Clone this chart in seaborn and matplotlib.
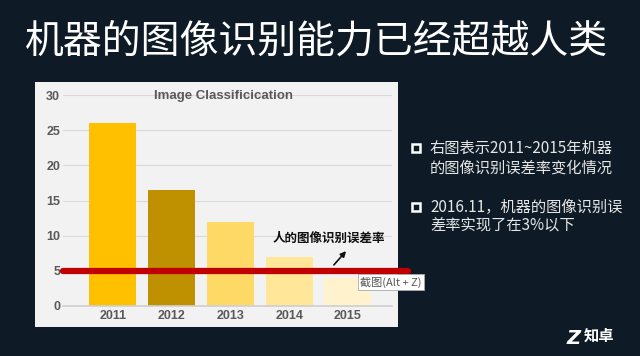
import matplotlib
matplotlib.use("Agg")
import matplotlib.pyplot as plt
import seaborn as sns
import pandas as pd
from matplotlib.patches import Rectangle

# ---- data ----
years = ["2011", "2012", "2013", "2014", "2015"]
error_rates = [26.0, 16.5, 12.0, 7.0, 4.0]
bar_colors = ["#ffc000", "#bf9000", "#ffd966", "#ffe699", "#fff2cc"]
human_error = 5.0
y_ticks = [0, 5, 10, 15, 20, 25, 30]
slide_title = "机器的图像识别能力已经超越人类"
chart_title = "Image Classificication"
human_label = "人的图像识别误差率"
tooltip = "截图(Alt + Z)"
bullet_lines = [
    ["右图表示2011~2015年机器", "的图像识别误差率变化情况"],
    ["2016.11，机器的图像识别误", "差率实现了在3%以下"],
]

sns.set_theme(style="white")
plt.rcParams['font.family'] = ['Noto Sans CJK SC', 'DejaVu Sans']

W, H = 640, 356
fig = plt.figure(figsize=(6.4, 3.56), dpi=100)
fig.patch.set_facecolor("#0e1b26")


def fx(px):
    return px / W


def fy(py):
    return 1 - py / H


# light chart panel
fig.patches.append(Rectangle((fx(35), fy(327)), fx(398) - fx(35), (327 - 82) / H,
                             transform=fig.transFigure, facecolor="#f2f2f2",
                             edgecolor="none", zorder=-5))

ax = fig.add_axes([fx(63), fy(306), (392 - 63) / W, (306 - 95) / H])
ax.set_zorder(1)
ax.set_facecolor("none")
df = pd.DataFrame({"year": years, "rate": error_rates})
sns.barplot(data=df, x="year", y="rate", hue="year", palette=bar_colors,
            legend=False, width=0.8, saturation=1, ax=ax, edgecolor="none")

ax.set_xlim(-0.85, 4.75)
ax.set_ylim(0, 30)
ax.set_yticks(y_ticks)
ax.yaxis.grid(True, color="#d9d9d9", lw=0.8)
ax.set_axisbelow(True)
for s in ["top", "right", "left"]:
    ax.spines[s].set_visible(False)
ax.spines["bottom"].set_color("#d0d0d0")
ax.set_xlabel("")
ax.set_ylabel("")
ax.tick_params(axis="y", length=0, pad=2)
ax.tick_params(axis="x", length=0, pad=3)
for lab in ax.get_yticklabels() + ax.get_xticklabels():
    lab.set_fontfamily(["Liberation Sans", "DejaVu Sans"])
    lab.set_fontweight("bold")
    lab.set_fontsize(9)
    lab.set_color("#595959")

# human error line
ax.axhline(human_error, xmin=0, xmax=(408 - 63) / (392 - 63), color="#c00000",
           lw=4.5, clip_on=False, zorder=5)
ax.text(3.68, 9.67, human_label, ha="center", va="center", fontsize=9,
        fontweight="bold", color="#111111", zorder=6)
ax.annotate("", xy=(4.0, 8.1), xytext=(3.73, 5.55),
            arrowprops=dict(arrowstyle="-|>", color="#111111", lw=1.2,
                            mutation_scale=8), zorder=6)

# chart title
fig.text(fx(223), fy(96), chart_title, ha="center", va="center", fontsize=9.5,
         fontweight="bold", color="#595959",
         family=["Liberation Sans", "DejaVu Sans"])

# tooltip box
fig.text(fx(360), fy(282), tooltip, ha="left", va="center", fontsize=8,
         color="#555555",
         bbox=dict(boxstyle="square,pad=0.2", facecolor="white",
                   edgecolor="#aaaaaa", lw=0.6), zorder=10)

# slide title
fig.text(fx(316), fy(42), slide_title, ha="center", va="center", fontsize=28,
         color="white")

# bullets
line_y = [[148, 168], [207, 225]]
for lines, ys in zip(bullet_lines, line_y):
    fig.patches.append(Rectangle((fx(412), fy(ys[0] + 4)), 8 / W, 8 / H,
                                 transform=fig.transFigure, facecolor="none",
                                 edgecolor="white", lw=1.8, zorder=3))
    for t, yy in zip(lines, ys):
        fig.text(fx(430), fy(yy), t, ha="left", va="center", fontsize=11,
                 color="#e6e6e6")

# logo
fig.text(fx(566), fy(338), "Z", ha="left", va="center", fontsize=14,
         fontweight="bold", fontstyle="italic", color="white",
         family=["DejaVu Sans"])
fig.text(fx(584), fy(336), "知卓", ha="left", va="center", fontsize=11,
         fontweight="bold", color="white")

fig.savefig("out.png", dpi=100, facecolor=fig.get_facecolor())
